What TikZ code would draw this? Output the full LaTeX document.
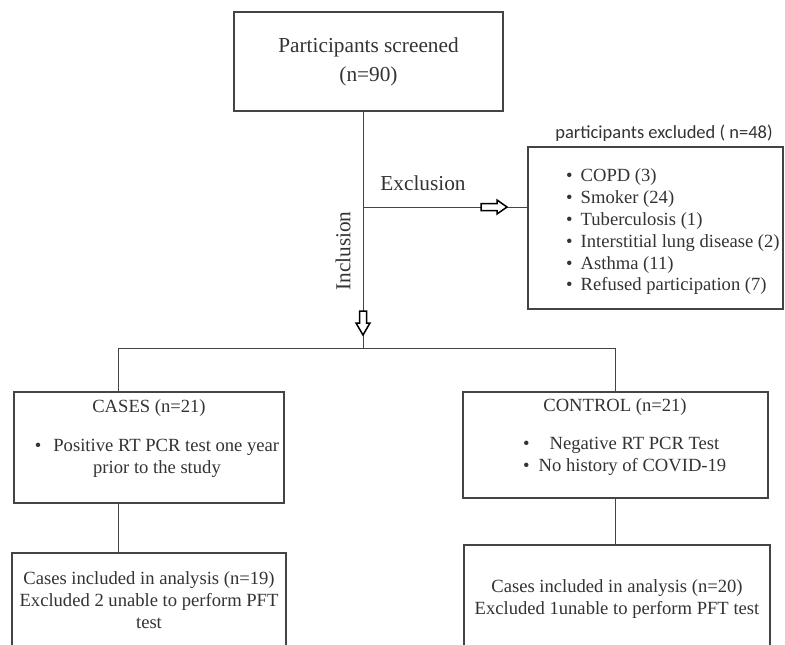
\documentclass[tikz,border=0pt]{standalone}
\usepackage{fontspec}
\setmainfont{Liberation Serif}
\newfontfamily\titlefont{Carlito}
\definecolor{ink}{HTML}{333333}
\definecolor{rule}{HTML}{444444}
\begin{document}
\begin{tikzpicture}[x=1pt,y=-1pt,
  box/.style={draw=rule, line width=1.1pt, inner sep=0pt},
  txt/.style={text=ink, inner sep=0pt, font=\fontsize{18.6}{21.8}\selectfont},
  big/.style={text=ink, inner sep=0pt, font=\fontsize{21.3}{29}\selectfont},
  conn/.style={draw=rule, line width=1pt},
  hollow/.style={draw=black, fill=white, line width=1.5pt, line join=miter}
]
\useasboundingbox (0,0) rectangle (785,645);
\clip (0,0) rectangle (785,645);
\fill[white] (0,0) rectangle (785,645);

% boxes
\node[box, minimum width=269pt, minimum height=99pt, align=center, big] (screen) at (368.5,61.5)
  {Participants screened\\(n=90)};
\node[box, minimum width=255pt, minimum height=162pt] (excl) at (655.5,228) {};
\node[txt, anchor=west, align=left] (excllist) at (566,232)
  {\textbullet\hspace{8pt}COPD (3)\\
   \textbullet\hspace{8pt}Smoker (24)\\
   \textbullet\hspace{8pt}Tuberculosis (1)\\
   \textbullet\hspace{8pt}Interstitial lung disease (2)\\
   \textbullet\hspace{8pt}Asthma (11)\\
   \textbullet\hspace{8pt}Refused participation (7)};
\node[text=ink, inner sep=0pt, font=\titlefont\fontsize{18.5}{22}\selectfont] (excltitle) at (664,133)
  {participants excluded ( n=48)};

\node[box, minimum width=270pt, minimum height=111pt] (cases) at (149,447.5) {};
\node[txt] (casestitle) at (149,408) {CASES (n=21)};
\node[txt, align=center] (casesbul) at (157,458)
  {\textbullet\hspace{12pt}Positive RT PCR test one year\\prior to the study};

\node[box, minimum width=305pt, minimum height=106pt] (ctrl) at (615.5,445) {};
\node[txt] (ctrltitle) at (615,407) {CONTROL (n=21)};
\node[txt, anchor=west, align=left] (ctrlbul) at (523,456)
  {\textbullet\hspace{20pt}Negative RT PCR Test\\
   \textbullet\hspace{9pt}No history of COVID-19};

\node[box, minimum width=274pt, minimum height=94pt, txt, align=center] (casesan) at (149,600)
  {Cases included in analysis (n=19)\\Excluded 2 unable to perform PFT\\test};
\node[box, minimum width=306pt, minimum height=108pt, txt, align=center] (ctrlan) at (617,599)
  {Cases included in analysis (n=20)\\Excluded 1unable to perform PFT test};

% connectors
\coordinate (jexc) at (363,207);
\coordinate (jn) at (363,348);
\coordinate (jl) at (118,348);
\coordinate (jr) at (615,348);
\draw[conn] (screen.south -| jn) -- (jn);
\draw[conn] (jl) -- (jr);
\draw[conn] (jexc) -- (jexc -| excl.west);
\draw[conn] (jl) -- (jl |- cases.north);
\draw[conn] (jr) -- (jr |- ctrl.north);
\draw[conn] (cases.south -| jl) -- (jl |- casesan.north);
\draw[conn] (ctrl.south -| jr) -- (jr |- ctrlan.north);

% hollow block arrows
\draw[hollow] (481,203.5) -- (497,203.5) -- (497,200) -- (507,207) -- (497,214) -- (497,210.5) -- (481,210.5) -- cycle;
\draw[hollow] (359.5,311) -- (359.5,323) -- (356,323) -- (363,335) -- (370,323) -- (366.5,323) -- (366.5,311) -- cycle;

% labels
\node[big] (exlab) at (423,183) {Exclusion};
\node[big, rotate=90] (inlab) at (343,251) {Inclusion};
\end{tikzpicture}
\end{document}
